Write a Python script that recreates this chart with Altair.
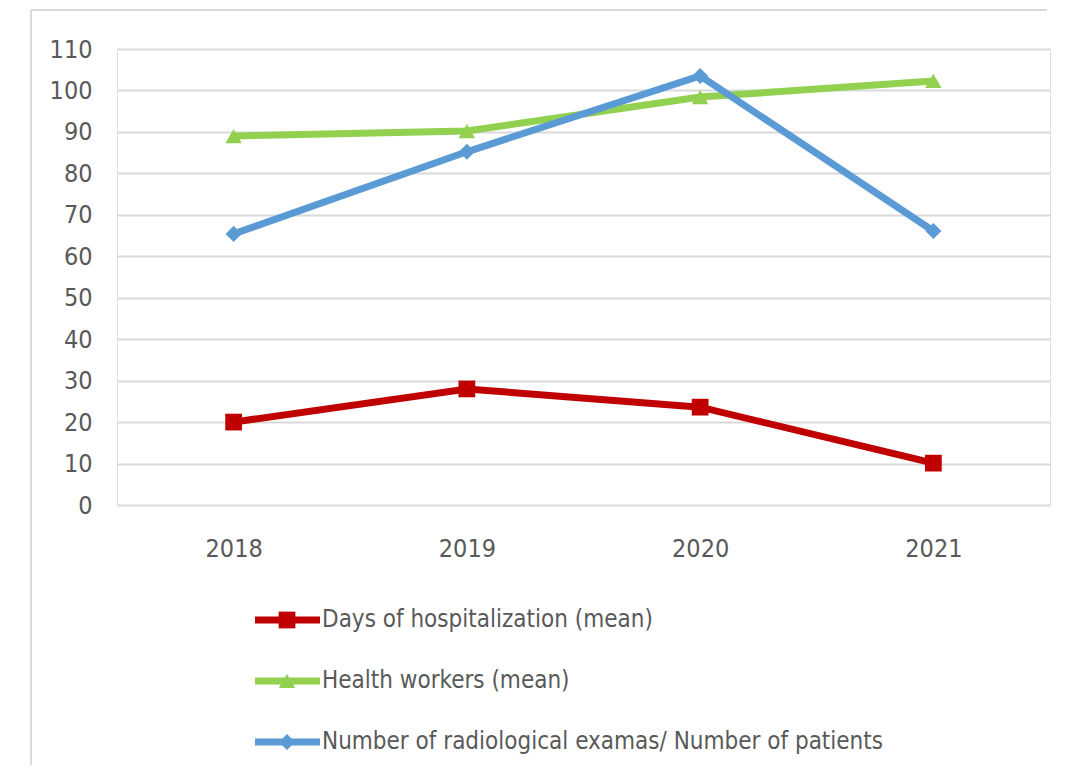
import altair as alt
import pandas as pd

years = ["2018", "2019", "2020", "2021"]
series_names = [
    "Days of hospitalization (mean)",
    "Health workers (mean)",
    "Number of radiological examas/ Number of patients",
]
days_hosp = [20.0, 28.0, 23.6, 10.1]
health_workers = [89.0, 90.2, 98.4, 102.3]
radiological = [65.4, 85.2, 103.5, 66.1]
colors = ["#C00000", "#92D050", "#5B9BD5"]
shapes = ["square", "triangle-up", "diamond"]
marker_sizes = [280, 260, 420]
y_ticks = list(range(0, 111, 10))

rows = []
for name, vals in zip(series_names, [days_hosp, health_workers, radiological]):
    for yr, v in zip(years, vals):
        rows.append({"year": yr, "series": name, "value": v})
df = pd.DataFrame(rows)
leg_df = pd.DataFrame({"series": series_names, "idx": list(range(len(series_names)))})

FONT = "Liberation Sans Narrow, DejaVu Sans Condensed, Arial Narrow, sans-serif"
TXT = "#595959"

color_scale = alt.Scale(domain=series_names, range=colors)
shape_scale = alt.Scale(domain=series_names, range=shapes)
size_scale = alt.Scale(domain=series_names, range=marker_sizes)

x_enc = alt.X("year:N", sort=years, title=None, scale=alt.Scale(padding=0.5),
              axis=alt.Axis(labelAngle=0, labelFontSize=25, labelColor=TXT, labelFont=FONT,
                            ticks=False, domain=False, grid=False, labelPadding=31))
y_axis = alt.Axis(values=y_ticks, grid=True, gridColor="#d9d9d9", gridWidth=2,
                  domain=False, ticks=False, labelPadding=25, labelFontSize=25,
                  labelColor=TXT, labelFont=FONT)
y_scale = alt.Scale(domain=[0, 110], nice=False)

lines = alt.Chart(df).mark_line(strokeWidth=7).encode(
    x=x_enc,
    y=alt.Y("value:Q", title=None, scale=y_scale, axis=y_axis),
    color=alt.Color("series:N", scale=color_scale, legend=None),
    detail="series:N",
)
points = alt.Chart(df).mark_point(filled=True, opacity=1).encode(
    x=x_enc,
    y=alt.Y("value:Q", title=None, scale=y_scale, axis=None),
    color=alt.Color("series:N", scale=color_scale, legend=None),
    shape=alt.Shape("series:N", scale=shape_scale, legend=None),
    size=alt.Size("series:N", scale=size_scale, legend=None),
)

leg_scale = alt.Scale(domain=[0, 2], range=[571, 693], nice=False, zero=False)
leg_y = alt.Y("idx:Q", title=None, axis=None, scale=leg_scale)

leg_lines = alt.Chart(leg_df).mark_rule(strokeWidth=7).encode(
    x=alt.value(138), x2=alt.value(203), y=leg_y,
    color=alt.Color("series:N", scale=color_scale, legend=None),
)
leg_pts = alt.Chart(leg_df).mark_point(filled=True, opacity=1).encode(
    x=alt.value(170), y=leg_y,
    color=alt.Color("series:N", scale=color_scale, legend=None),
    shape=alt.Shape("series:N", scale=shape_scale, legend=None),
    size=alt.Size("series:N", scale=size_scale, legend=None),
)
leg_text = alt.Chart(leg_df).mark_text(align="left", baseline="middle", fontSize=24,
                                      font=FONT, color=TXT).encode(
    x=alt.value(205), y=leg_y, text="series:N",
)

frame_top = alt.Chart(leg_df.head(1)).mark_rule(stroke="#d9d9d9", strokeWidth=2).encode(
    x=alt.value(-86), x2=alt.value(930), y=alt.value(-39), y2=alt.value(-39),
)
frame_left = alt.Chart(leg_df.head(1)).mark_rule(stroke="#d9d9d9", strokeWidth=2).encode(
    x=alt.value(-86), x2=alt.value(-86), y=alt.value(-39), y2=alt.value(716),
)

chart = alt.layer(frame_top, frame_left, lines, points, leg_lines, leg_pts, leg_text).resolve_scale(
    y="independent"
).properties(
    width=933, height=456,
    autosize=alt.AutoSizeParams(type="none"),
    padding={"left": 109, "top": 41, "right": 14, "bottom": 260},
).configure_view(stroke=None).configure(font=FONT)

chart.save("out.html", embed_options={"renderer": "svg", "actions": False})
